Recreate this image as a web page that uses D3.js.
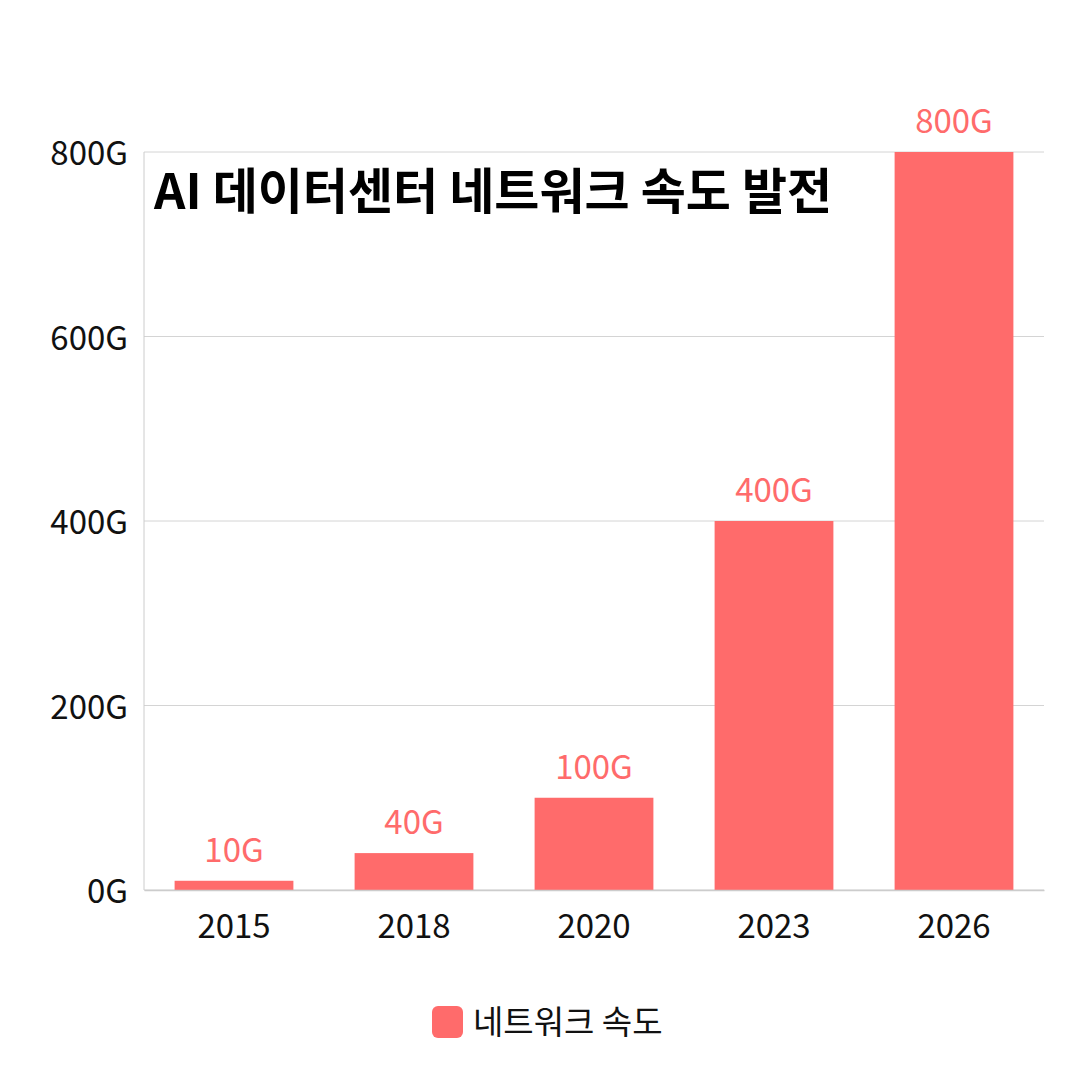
<!DOCTYPE html>
<html>
<head>
<meta charset="utf-8">
<script src="https://cdn.jsdelivr.net/npm/d3@7"></script>
<style>
  body { margin: 0; background: #fff; }
  svg text { font-family: "Noto Sans CJK KR", "Noto Sans", sans-serif; }
</style>
</head>
<body>
<div id="container"></div>
<script>
// data
const years = ["2015", "2018", "2020", "2023", "2026"];
const speeds = [10, 40, 100, 400, 800];
const yTicks = [0, 200, 400, 600, 800];
const seriesName = "네트워크 속도";
const title = "AI 데이터센터 네트워크 속도 발전";

const width = 1080,
    height = 1080,
    margin = { top: 152, bottom: 190, left: 144, right: 36 };
const barColor = "#ff6b6b";

const svg = d3.select("#container")
    .append("svg")
    .attr("width", width)
    .attr("height", height);

const xScale = d3.scaleBand()
    .domain(years)
    .range([margin.left, width - margin.right])
    .paddingInner(0.34)
    .paddingOuter(0.17);

const yScale = d3.scaleLinear()
    .domain([0, 800])
    .range([height - margin.bottom, margin.top]);

// gridlines
svg.append("g")
    .selectAll("line")
    .data(yTicks)
    .join("line")
    .attr("x1", margin.left)
    .attr("x2", width - margin.right)
    .attr("y1", d => yScale(d))
    .attr("y2", d => yScale(d))
    .attr("stroke", "#d4d4d4")
    .attr("stroke-width", 1);

// left axis line
svg.append("line")
    .attr("x1", margin.left).attr("x2", margin.left)
    .attr("y1", margin.top).attr("y2", height - margin.bottom)
    .attr("stroke", "#cccccc");

// y axis labels
const yAxis = d3.axisLeft(yScale)
    .tickValues(yTicks)
    .tickFormat(d => d + "G")
    .tickSize(0)
    .tickPadding(16);
const yAxisGroup = svg.append("g")
    .attr("transform", `translate(${margin.left},2)`)
    .call(yAxis);
yAxisGroup.select(".domain").remove();
yAxisGroup.selectAll("text")
    .attr("font-size", 33)
    .attr("fill", "#111");

// bars
svg.selectAll("rect.bar")
    .data(speeds)
    .join("rect")
    .attr("class", "bar")
    .attr("x", (d, i) => xScale(years[i]))
    .attr("y", d => yScale(d))
    .attr("width", xScale.bandwidth())
    .attr("height", d => yScale(0) - yScale(d))
    .attr("fill", barColor);

// value labels
svg.selectAll("text.value")
    .data(speeds)
    .join("text")
    .attr("class", "value")
    .attr("x", (d, i) => xScale(years[i]) + xScale.bandwidth() / 2)
    .attr("y", d => yScale(d) - 19)
    .attr("text-anchor", "middle")
    .attr("font-size", 33)
    .attr("fill", barColor)
    .text(d => d + "G");

// x axis
const xAxis = d3.axisBottom(xScale)
    .tickSize(0)
    .tickPadding(25);
const xAxisGroup = svg.append("g")
    .attr("transform", `translate(0,${height - margin.bottom})`)
    .call(xAxis);
xAxisGroup.select(".domain")
    .attr("stroke", "#cccccc")
    .attr("stroke-width", 1.5);
xAxisGroup.selectAll("text")
    .attr("font-size", 33)
    .attr("fill", "#111");

// title
svg.append("text")
    .attr("x", 154)
    .attr("y", 209)
    .attr("font-size", 49)
    .attr("font-weight", "bold")
    .attr("fill", "#000")
    .text(title);

// legend
const legend = svg.append("g")
    .attr("transform", "translate(432,1006)");
legend.append("rect")
    .attr("width", 31)
    .attr("height", 32)
    .attr("rx", 6)
    .attr("fill", barColor);
legend.append("text")
    .attr("x", 41)
    .attr("y", 28)
    .attr("font-size", 33)
    .attr("fill", "#111")
    .text(seriesName);
</script>
</body>
</html>
